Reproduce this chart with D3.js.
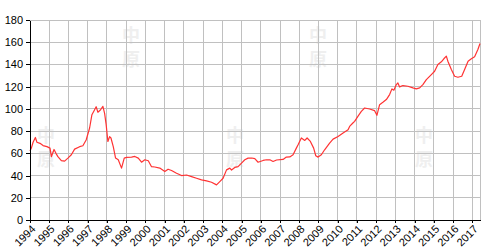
<!DOCTYPE html>
<html>
<head>
<meta charset="utf-8">
<script src="https://cdn.jsdelivr.net/npm/d3@7"></script>
<style>
  body { margin: 0; background: #fff; }
  svg { display: block; font-family: "Liberation Sans", Arial, sans-serif; }
  .grid line { stroke: #c0c0c0; stroke-width: 1; shape-rendering: crispEdges; }
  .axis path, .axis line { stroke: #000; shape-rendering: crispEdges; }
  .axis text { font-size: 11px; fill: #000; }
  .mark { font-family: "Noto Sans CJK SC", sans-serif; fill: #efefef; font-size: 18px; font-weight: bold; }
</style>
</head>
<body>
<div id="chart"></div>
<script>
'use strict';

// time in decimal years, value = index level
var years = [1994.00, 1994.07, 1994.16, 1994.28, 1994.36, 1994.52, 1994.68, 1994.88,
  1995.04, 1995.11, 1995.25, 1995.35, 1995.45, 1995.63, 1995.80, 1995.97,
  1996.15, 1996.32, 1996.58, 1996.75, 1996.92,
  1997.10, 1997.22, 1997.36, 1997.44, 1997.53, 1997.66, 1997.79, 1997.88, 1997.96,
  1998.05, 1998.14, 1998.21, 1998.33, 1998.45, 1998.59, 1998.76, 1998.90,
  1999.02, 1999.28, 1999.45, 1999.63, 1999.80, 1999.97,
  2000.15, 2000.32, 2000.49, 2000.75,
  2001.01, 2001.18, 2001.36, 2001.62, 2001.88,
  2002.14, 2002.40, 2002.66, 2002.92,
  2003.18, 2003.44, 2003.70, 2003.87,
  2004.04, 2004.22, 2004.39, 2004.48, 2004.65, 2004.82,
  2005.00, 2005.17, 2005.34, 2005.53, 2005.69, 2005.86,
  2006.12, 2006.30, 2006.47, 2006.64, 2006.82,
  2007.16, 2007.33, 2007.51, 2007.68, 2007.85, 2007.94,
  2008.11, 2008.29, 2008.41, 2008.58, 2008.75, 2008.86, 2008.98,
  2009.15, 2009.32, 2009.58, 2009.76,
  2010.02, 2010.28, 2010.36, 2010.54, 2010.62, 2010.79, 2010.88,
  2011.05, 2011.23, 2011.40, 2011.66, 2011.92,
  2012.04, 2012.18, 2012.35, 2012.53, 2012.70, 2012.82, 2012.92,
  2013.05, 2013.13, 2013.22, 2013.39, 2013.65, 2013.91,
  2014.09, 2014.26, 2014.43, 2014.61, 2014.87,
  2015.04, 2015.21, 2015.39, 2015.52, 2015.65, 2015.73, 2015.91,
  2016.08, 2016.25, 2016.45, 2016.60, 2016.78, 2016.95,
  2017.12, 2017.29, 2017.40];

var values = [62, 64.7, 70, 74.3, 70, 69, 67, 66,
  64.7, 57, 63.5, 60, 57, 53.5, 53, 55.7,
  58.7, 63.8, 66, 66.8, 72,
  82.8, 94.8, 99.3, 102, 97, 99, 102.3, 96, 85.8,
  70.7, 75, 73.8, 66, 55.7, 54.2, 46.7, 55.7,
  56.3, 56.6, 57.2, 55.7, 52, 54.2,
  53.3, 48, 47.7, 46.7,
  43.6, 45.7, 44.6, 42.1, 40,
  40.5, 39, 37.6, 36.1,
  35.2, 34, 31.6, 34.6,
  37.6, 45.1, 46.7, 45, 47.3, 48.1,
  51.2, 54.2, 55.7, 55.8, 55.2, 52,
  53.6, 54.2, 54.2, 52.7, 54,
  54.5, 56.6, 56.8, 58.7, 64.7, 67.7,
  73.8, 71.6, 73.8, 70.7, 64.7, 57.8, 56.6,
  58.7, 63.2, 69.2, 72.8,
  75.2, 78.3, 79.2, 81.3, 84.2, 87.3, 88.8,
  93.3, 97.8, 100.8, 99.9, 98.4,
  94.2, 103.8, 105.9, 108.4, 112.9, 118, 116.8,
  121.9, 123.4, 119.8, 121, 120.4, 118.9,
  118, 118.9, 121.9, 126.4, 130.9,
  133.9, 140, 142.4, 145.1, 147.5, 142.9, 135.4,
  129.4, 128.5, 129.4, 135.4, 142.9, 145.1,
  146.9, 153.5, 158.9];

var yearTicks = d3.range(1994, 2018);
var valueTicks = d3.range(0, 181, 20);

var width = 500, height = 250;
var mLeft = 30, mRight = 480, mTop = 20, mBottom = 220;

var data = years.map(function(t, i){ return {t: t, v: values[i]}; });

var svg = d3.select('#chart').append('svg')
  .attr('width', width)
  .attr('height', height);

var x = d3.scaleLinear().domain([1994, years[years.length - 1]]).range([mLeft, mRight]);
var y = d3.scaleLinear().domain([0, 180]).range([mBottom, mTop]);

// faint watermarks (only the ones fully inside the picture)
var marks = [[131, 24], [318, 24], [46, 124], [235, 124], [424, 124]];
var wm = svg.append('g');
marks.forEach(function(m){
  wm.append('text').attr('class', 'mark').attr('x', m[0]).attr('y', m[1] + 18)
    .attr('text-anchor', 'middle').text('中');
  wm.append('text').attr('class', 'mark').attr('x', m[0]).attr('y', m[1] + 42)
    .attr('text-anchor', 'middle').text('原');
});

// grid
var grid = svg.append('g').attr('class', 'grid');
grid.selectAll('.gy')
  .data(valueTicks)
  .enter()
  .append('line')
  .attr('x1', mLeft).attr('x2', mRight)
  .attr('y1', function(d){ return y(d); })
  .attr('y2', function(d){ return y(d); });
grid.selectAll('.gx')
  .data(yearTicks)
  .enter()
  .append('line')
  .attr('y1', mTop).attr('y2', mBottom + 3)
  .attr('x1', function(d){ return x(d); })
  .attr('x2', function(d){ return x(d); });
grid.append('line')
  .attr('x1', mRight).attr('x2', mRight)
  .attr('y1', mTop).attr('y2', mBottom);

// line
var line = d3.line()
  .x(function(d){ return x(d.t); })
  .y(function(d){ return y(d.v); });

svg.append('path')
  .datum(data)
  .attr('fill', 'none')
  .attr('stroke', '#ff3333')
  .attr('stroke-width', 1.2)
  .attr('stroke-linejoin', 'round')
  .attr('d', line);

// axes
var yAxis = d3.axisLeft(y).tickValues(valueTicks).tickSize(4).tickPadding(3).tickSizeOuter(0);
svg.append('g')
  .attr('class', 'axis')
  .attr('transform', 'translate(' + mLeft + ',0)')
  .call(yAxis);

var xAxis = d3.axisBottom(x).tickValues(yearTicks).tickFormat(d3.format('d')).tickSize(3).tickSizeOuter(0);
svg.append('g')
  .attr('class', 'axis')
  .attr('transform', 'translate(0,' + mBottom + ')')
  .call(xAxis)
  .selectAll('text')
    .attr('text-anchor', 'end')
    .attr('x', 0)
    .attr('y', 0)
    .attr('dy', '0.35em')
    .attr('transform', 'translate(3,7) rotate(-45)');
</script>
</body>
</html>
